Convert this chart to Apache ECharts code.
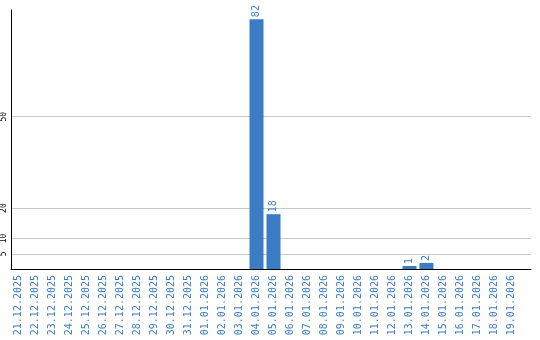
<!DOCTYPE html>
<html><head><meta charset="utf-8">
<script src="https://cdn.jsdelivr.net/npm/echarts@6/dist/echarts.min.js"></script>
<style>html,body{margin:0;padding:0;background:#fff}#c{width:540px;height:340px}</style>
</head><body><div id="c"></div>
<script>
const categories = ['21.12.2025','22.12.2025','23.12.2025','24.12.2025','25.12.2025','26.12.2025','27.12.2025','28.12.2025','29.12.2025','30.12.2025','31.12.2025','01.01.2026','02.01.2026','03.01.2026','04.01.2026','05.01.2026','06.01.2026','07.01.2026','08.01.2026','09.01.2026','10.01.2026','11.01.2026','12.01.2026','13.01.2026','14.01.2026','15.01.2026','16.01.2026','17.01.2026','18.01.2026','19.01.2026'];
const values = [0,0,0,0,0,0,0,0,0,0,0,0,0,0,82,18,0,0,0,0,0,0,0,1,2,0,0,0,0,0];
const yTicks = [5,10,20,50];
const yMax = 85;

const chart = echarts.init(document.getElementById('c'), null, {renderer:'canvas'});
const blue = '#3b7dc4';
chart.setOption({
  animation:false,
  grid:[
    {left:10, right:9, top:10, bottom:71},
    {left:10, width:510, top:10, bottom:71}
  ],
  xAxis:[
    {gridIndex:0, type:'value', min:0, max:1, axisLine:{show:true, lineStyle:{color:'#000', width:1}}, axisTick:{show:false}, axisLabel:{show:false}, splitLine:{show:false}},
    {gridIndex:1, type:'category', data:categories, axisLine:{show:false}, axisTick:{show:false},
     axisLabel:{interval:0, rotate:90, color:blue, fontFamily:'DejaVu Sans Mono', fontSize:10, margin:6}}
  ],
  yAxis:[
    {gridIndex:0, type:'value', min:0, max:yMax,
     axisLine:{show:true, lineStyle:{color:'#000', width:1}},
     axisTick:{show:false, customValues:yTicks},
     axisLabel:{customValues:yTicks, rotate:90, color:'#000', fontFamily:'DejaVu Sans Mono', fontSize:8, margin:3},
     splitLine:{show:true, lineStyle:{color:'#c8c8c8', width:1}}},
    {gridIndex:1, type:'value', min:0, max:yMax, show:false, splitLine:{show:false}}
  ],
  series:[{
    type:'bar', xAxisIndex:1, yAxisIndex:1, data:values, barWidth:14,
    itemStyle:{color:blue},
    label:{show:true, position:'top', rotate:90, align:'left', verticalAlign:'middle', distance:2,
      color:blue, fontFamily:'DejaVu Sans Mono', fontSize:10,
      formatter:p => p.value ? String(p.value) : ''}
  }]
});
</script></body></html>
